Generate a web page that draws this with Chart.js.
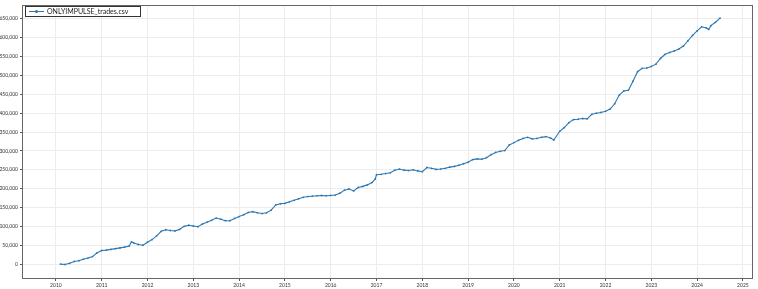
<!DOCTYPE html>
<html lang="en">
<head>
  <meta charset="UTF-8" />
  <title>ONLYIMPULSE_trades.csv</title>
  <script src="https://cdn.jsdelivr.net/npm/chart.js"></script>
  <style>
    html, body { margin: 0; padding: 0; background: #ffffff; }
    #wrap { width: 758px; height: 289px; }
  </style>
</head>
<body>
<div id="wrap"><canvas id="equityChart" width="758" height="289"></canvas></div>

<script>
  // equity curve (decimal year, cumulative value)
  const SERIES_NAME = 'ONLYIMPULSE_trades.csv';
  const YEARS = [
    2010.1, 2010.2, 2010.3, 2010.4, 2010.5, 2010.6, 2010.7, 2010.8, 2010.9, 2011.0,
    2011.1, 2011.2, 2011.3, 2011.4, 2011.5, 2011.6, 2011.65, 2011.7, 2011.8, 2011.9, 2012.0,
    2012.1, 2012.2, 2012.3, 2012.4, 2012.5, 2012.6, 2012.7, 2012.8, 2012.9, 2013.0,
    2013.1, 2013.2, 2013.3, 2013.4, 2013.5, 2013.6, 2013.7, 2013.8, 2013.9, 2014.0,
    2014.1, 2014.2, 2014.3, 2014.4, 2014.5, 2014.6, 2014.7, 2014.8, 2014.9, 2015.0,
    2015.1, 2015.2, 2015.3, 2015.4, 2015.5, 2015.6, 2015.7, 2015.8, 2015.9, 2016.0,
    2016.1, 2016.2, 2016.3, 2016.4, 2016.5, 2016.6, 2016.7, 2016.8, 2016.9, 2016.97, 2017.0,
    2017.1, 2017.2, 2017.3, 2017.4, 2017.5, 2017.6, 2017.7, 2017.8, 2017.9, 2018.0,
    2018.1, 2018.2, 2018.3, 2018.4, 2018.5, 2018.6, 2018.7, 2018.8, 2018.9, 2019.0,
    2019.1, 2019.2, 2019.3, 2019.4, 2019.5, 2019.6, 2019.7, 2019.8, 2019.9, 2020.0,
    2020.1, 2020.2, 2020.3, 2020.4, 2020.5, 2020.6, 2020.7, 2020.8, 2020.87, 2021.0,
    2021.1, 2021.2, 2021.3, 2021.4, 2021.5, 2021.6, 2021.7, 2021.8, 2021.9, 2022.0,
    2022.1, 2022.2, 2022.3, 2022.4, 2022.5, 2022.6, 2022.7, 2022.8, 2022.9, 2023.0,
    2023.1, 2023.2, 2023.3, 2023.4, 2023.5, 2023.6, 2023.7, 2023.8, 2023.9, 2024.0,
    2024.1, 2024.2, 2024.25, 2024.3, 2024.4, 2024.5
  ];
  const EQUITY = [
    0, -1000, 2000, 7000, 9000, 13000, 16000, 20000, 30000, 36000,
    37000, 39000, 41000, 43000, 45000, 48000, 59000, 56000, 52000, 50000, 58000,
    65000, 75000, 87000, 91000, 89000, 88000, 92000, 100000, 103000, 101000,
    99000, 106000, 111000, 116000, 122000, 119000, 115000, 115000, 121000, 126000,
    131000, 137000, 139000, 136000, 134000, 136000, 143000, 157000, 160000, 161000,
    165000, 169000, 173000, 177000, 179000, 180000, 181000, 182000, 181000, 182000,
    183000, 188000, 196000, 199000, 194000, 203000, 206000, 210000, 216000, 225000, 237000,
    238000, 240000, 242000, 249000, 252000, 249000, 248000, 250000, 247000, 245000,
    256000, 254000, 251000, 252000, 254000, 257000, 259000, 262000, 266000, 270000,
    277000, 279000, 278000, 282000, 290000, 296000, 299000, 301000, 316000, 322000,
    328000, 333000, 336000, 332000, 333000, 336000, 338000, 334000, 329000, 352000,
    362000, 375000, 383000, 384000, 386000, 385000, 397000, 400000, 402000, 405000,
    411000, 425000, 448000, 459000, 461000, 485000, 510000, 519000, 520000, 524000,
    530000, 545000, 556000, 561000, 565000, 570000, 578000, 592000, 606000, 618000,
    629000, 626000, 622000, 632000, 641000, 652000
  ];
  const X_TICKS = [2010, 2011, 2012, 2013, 2014, 2015, 2016, 2017, 2018, 2019,
                   2020, 2021, 2022, 2023, 2024, 2025];
  const Y_TICKS = [0, 50000, 100000, 150000, 200000, 250000, 300000, 350000,
                   400000, 450000, 500000, 550000, 600000, 650000];
  const X_MIN = 2009.26, X_MAX = 2025.22;
  const Y_MIN = -39500, Y_MAX = 686800;

  const LINE_COLOR = '#2c78b2';
  const TICK_FONT = { family: 'Lato, "DejaVu Sans", sans-serif', size: 5 };

  // frame round the plot + legend box in the top-left corner
  const frameAndLegend = {
    id: 'frameAndLegend',
    afterDraw(chart) {
      const { ctx, chartArea: a } = chart;
      ctx.save();
      ctx.strokeStyle = '#666666';
      ctx.lineWidth = 1;
      ctx.strokeRect(a.left + 0.5, a.top + 0.5, a.right - a.left - 1, a.bottom - a.top - 1);

      const bx = a.left + 3, by = a.top + 1, bw = 115, bh = 10;
      ctx.fillStyle = '#ffffff';
      ctx.fillRect(bx, by, bw, bh);
      ctx.strokeStyle = '#333333';
      ctx.strokeRect(bx + 0.5, by + 0.5, bw, bh);
      ctx.strokeStyle = LINE_COLOR;
      ctx.beginPath();
      ctx.moveTo(bx + 4, by + 5.5);
      ctx.lineTo(bx + 19, by + 5.5);
      ctx.stroke();
      ctx.fillStyle = LINE_COLOR;
      ctx.beginPath();
      ctx.arc(bx + 11.5, by + 5.5, 1.6, 0, Math.PI * 2);
      ctx.fill();
      ctx.fillStyle = '#222222';
      ctx.font = '7px Lato, "DejaVu Sans", sans-serif';
      ctx.textBaseline = 'middle';
      ctx.fillText(SERIES_NAME, bx + 22, by + 6);
      ctx.restore();
    }
  };

  new Chart(document.getElementById('equityChart'), {
    type: 'line',
    data: {
      datasets: [{
        label: SERIES_NAME,
        data: YEARS.map((x, i) => ({ x, y: EQUITY[i] })),
        borderColor: LINE_COLOR,
        backgroundColor: LINE_COLOR,
        borderWidth: 1.1,
        pointRadius: 0.9,
        pointBorderWidth: 0,
        tension: 0
      }]
    },
    options: {
      responsive: false,
      animation: false,
      layout: { padding: { top: 0, right: 5, left: 0, bottom: 0 } },
      plugins: { legend: { display: false }, tooltip: { enabled: false } },
      scales: {
        x: {
          type: 'linear',
          min: X_MIN,
          max: X_MAX,
          border: { display: false },
          grid: { color: '#ececec', tickLength: 2, tickColor: '#555555' },
          ticks: {
            maxRotation: 0,
            autoSkip: false,
            padding: 1,
            color: '#333333',
            font: TICK_FONT,
            callback: v => String(v)
          },
          afterBuildTicks: s => { s.ticks = X_TICKS.map(v => ({ value: v })); },
          afterFit: s => { s.height = 10; }
        },
        y: {
          type: 'linear',
          min: Y_MIN,
          max: Y_MAX,
          border: { display: false },
          grid: { color: '#ececec', tickLength: 2, tickColor: '#555555' },
          ticks: {
            autoSkip: false,
            padding: 2,
            color: '#333333',
            font: TICK_FONT,
            callback: v => Number(v).toLocaleString('en-US')
          },
          afterBuildTicks: s => { s.ticks = Y_TICKS.map(v => ({ value: v })); },
          afterFit: s => { s.width = 22; }
        }
      }
    },
    plugins: [frameAndLegend]
  });
</script>
</body>
</html>
